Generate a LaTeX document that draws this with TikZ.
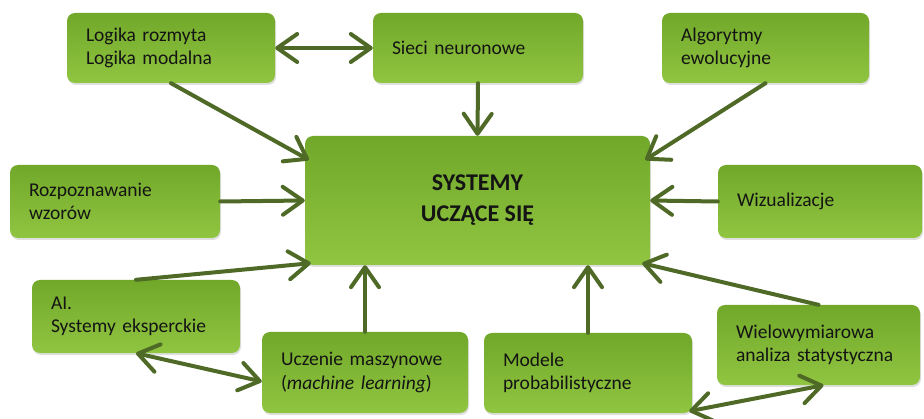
\documentclass[tikz,border=0pt]{standalone}
\usepackage{fontspec}
\setmainfont{Carlito}
\usetikzlibrary{arrows.meta,shadows}
\definecolor{boxtop}{RGB}{114,168,42}
\definecolor{boxbot}{RGB}{143,197,64}
\definecolor{linkgreen}{RGB}{78,106,38}
\definecolor{txt}{RGB}{20,20,20}

\begin{document}
\begin{tikzpicture}[x=1pt,y=1pt,
  box/.style={rounded corners=8pt,top color=boxtop,bottom color=boxbot,
    drop shadow={shadow xshift=1pt,shadow yshift=-2pt,opacity=0.25},
    text=txt,font=\fontsize{19.5}{23.5}\selectfont,align=left,inner sep=0pt},
  hub/.style={box,font=\fontsize{24}{31}\selectfont\bfseries,align=center},
  link/.style={draw=linkgreen,line width=4pt,line cap=round,
    -{Straight Barb[length=20pt,width=28pt,round]}},
  both/.style={link,{Straight Barb[length=20pt,width=28pt,round]}-{Straight Barb[length=20pt,width=28pt,round]}}]
  \useasboundingbox (0,0) rectangle (924,418);
  % top row
  \node[box,minimum width=208pt,minimum height=70pt,text width=170pt] (logika) at (171,370) {Logika rozmyta\\Logika modalna};
  \node[box,minimum width=210pt,minimum height=70pt,text width=172pt] (sieci) at (478,370) {Sieci neuronowe};
  \node[box,minimum width=207pt,minimum height=70pt,text width=169pt] (algo) at (765.5,370) {Algorytmy\\ewolucyjne};
  % middle row
  \node[box,minimum width=210pt,minimum height=73pt,text width=172pt] (rozp) at (115,216.5) {Rozpoznawanie\\wzorów};
  \node[hub,minimum width=345pt,minimum height=129pt] (uczace) at (477.5,217.5) {SYSTEMY\\UCZĄCE SIĘ};
  \node[box,minimum width=204pt,minimum height=73pt,text width=166pt] (wiz) at (820,216.5) {Wizualizacje};
  % bottom rows
  \node[box,minimum width=208pt,minimum height=73pt,text width=170pt] (ai) at (136,101.5) {AI.\\Systemy eksperckie};
  \node[box,minimum width=206pt,minimum height=81pt,text width=168pt] (ucz) at (365,45.5) {Uczenie maszynowe\\(\textit{machine learning})};
  \node[box,minimum width=208pt,minimum height=80pt,text width=170pt] (modele) at (588,45) {Modele\\probabilistyczne};
  \node[box,minimum width=203pt,minimum height=80pt,text width=165pt] (wiel) at (818.5,73) {Wielowymiarowa\\analiza statystyczna};
  % arrows into the hub
  \draw[link] (logika.south) -- ([xshift=4pt,yshift=-24pt]uczace.north west);
  \draw[link] (sieci.south) -- (uczace.north);
  \draw[link] (algo.south) -- ([xshift=-5pt,yshift=-24pt]uczace.north east);
  \draw[link] (rozp.east) -- (uczace.west);
  \draw[link] (wiz.west) -- (uczace.east);
  \draw[link] (ai.north) -- ([xshift=6pt,yshift=2pt]uczace.south west);
  \draw[link] (ucz.north) -- (ucz.north |- uczace.south);
  \draw[link] (modele.north) -- (modele.north |- uczace.south);
  \draw[link] (wiel.north) -- ([xshift=-8pt,yshift=2pt]uczace.south east);
  % two-way links
  \draw[both] (logika.east) -- (sieci.west);
  \draw[both] (ai.south) -- ([yshift=-9pt]ucz.west);
  \draw[both] ([xshift=-3pt,yshift=2pt]modele.south east) -- ([xshift=5pt]wiel.south);
\end{tikzpicture}
\end{document}
